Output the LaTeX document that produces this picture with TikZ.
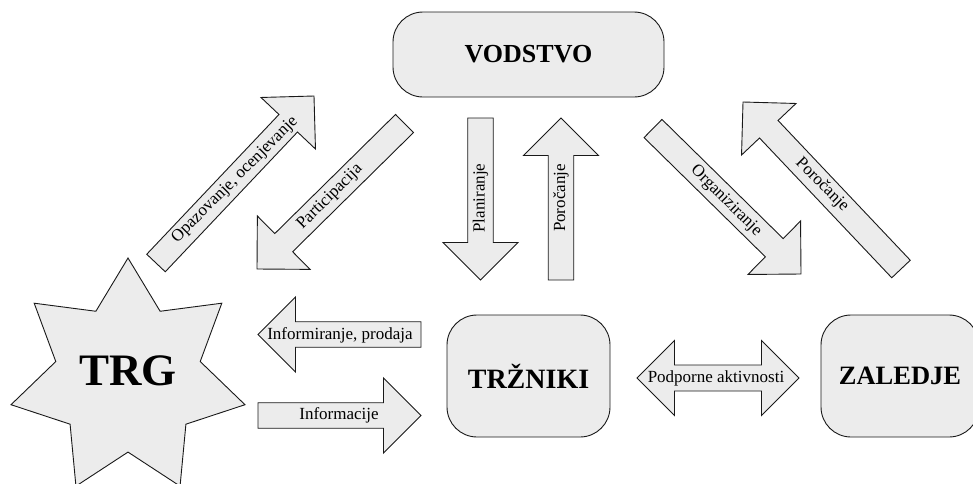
\documentclass[tikz,border=0pt]{standalone}
\usepackage{fontspec}
\setmainfont{Liberation Serif}
\usetikzlibrary{calc,shapes.geometric}

\definecolor{boxfill}{RGB}{236,236,236}
\definecolor{edge}{RGB}{25,25,25}

\tikzset{
  unit box/.style={draw=edge, fill=boxfill, line width=0.9pt, rounded corners=30pt},
  arrowbox/.style={draw=edge, fill=boxfill, line width=0.9pt, line join=miter},
  lbl/.style={inner sep=0pt, font=\fontsize{17}{20}\selectfont},
  title/.style={font=\bfseries\fontsize{#1}{#1}\selectfont},
}

% block arrow: name, tail midpoint, tip
\newcommand\blockarrow[3]{%
  \coordinate (#1-t) at (#2);
  \coordinate (#1-h) at (#3);
  \coordinate (#1-b) at ($(#1-h)!37.5pt!(#1-t)$);
  \draw[arrowbox]
    ($(#1-t)!12.75pt!90:(#1-h)$) -- ($(#1-b)!12.75pt!90:(#1-h)$)
    -- ($(#1-b)!37.5pt!90:(#1-h)$) -- (#1-h)
    -- ($(#1-b)!37.5pt!-90:(#1-h)$) -- ($(#1-b)!12.75pt!-90:(#1-h)$)
    -- ($(#1-t)!12.75pt!-90:(#1-h)$) -- cycle;}

\begin{document}
\begin{tikzpicture}[x=1pt, y=-1pt]
\useasboundingbox (0,0) rectangle (973,483);

% units
\node[unit box, minimum width=271pt, minimum height=85pt, title=26] (vodstvo) at (528.5,54.5) {VODSTVO};
\node[unit box, minimum width=163pt, minimum height=122pt, title=28] (trzniki) at (528.5,376) {TRŽNIKI};
\node[unit box, minimum width=158pt, minimum height=122pt, title=26.5] (zaledje) at (900,376) {ZALEDJE};
\node[star, star points=7, star point ratio=1.62, minimum size=240pt, inner sep=0pt,
      draw=edge, fill=boxfill, line width=0.9pt] (trg) at (128,378) {};
\node[title=45, yshift=7pt] (trgtxt) at (trg.center) {TRG};

% flows between the market and management
\blockarrow{opaz}{156,263}{314,96}
\node[lbl, rotate=45] (l-opaz) at (235,180) {Opazovanje, ocenjevanje};
\blockarrow{part}{404.5,123.5}{257,269}
\node[lbl, rotate=45] (l-part) at (330,197) {Participacija};

% management and marketers
\blockarrow{plan}{480.5,118}{480.5,280}
\node[lbl, rotate=90] (l-plan) at (480.5,198) {Planiranje};
\blockarrow{poro}{561,280}{561,118}
\node[lbl, rotate=90] (l-poro) at (561,198) {Poročanje};

% management and back office
\blockarrow{org}{653,128.5}{801,274}
\node[lbl, rotate=-45] (l-org) at (726,201) {Organiziranje};
\blockarrow{porz}{901,269}{743,102}
\node[lbl, rotate=-45] (l-porz) at (822,185) {Poročanje};

% market and marketers
\blockarrow{info}{421,334.5}{258,334.5}
\node[lbl] (l-info) at (340,335) {Informiranje, prodaja};
\blockarrow{inf}{258,415.5}{421,415.5}
\node[lbl] (l-inf) at (339,415.5) {Informacije};

% marketers and back office
\draw[arrowbox] (637,378) -- (674.5,340.5) -- (674.5,365) -- (761.5,365) -- (761.5,340.5)
  -- (799,378) -- (761.5,415.5) -- (761.5,391) -- (674.5,391) -- (674.5,415.5) -- cycle;
\node[lbl] (l-pod) at (716,378) {Podporne aktivnosti};
\end{tikzpicture}
\end{document}
